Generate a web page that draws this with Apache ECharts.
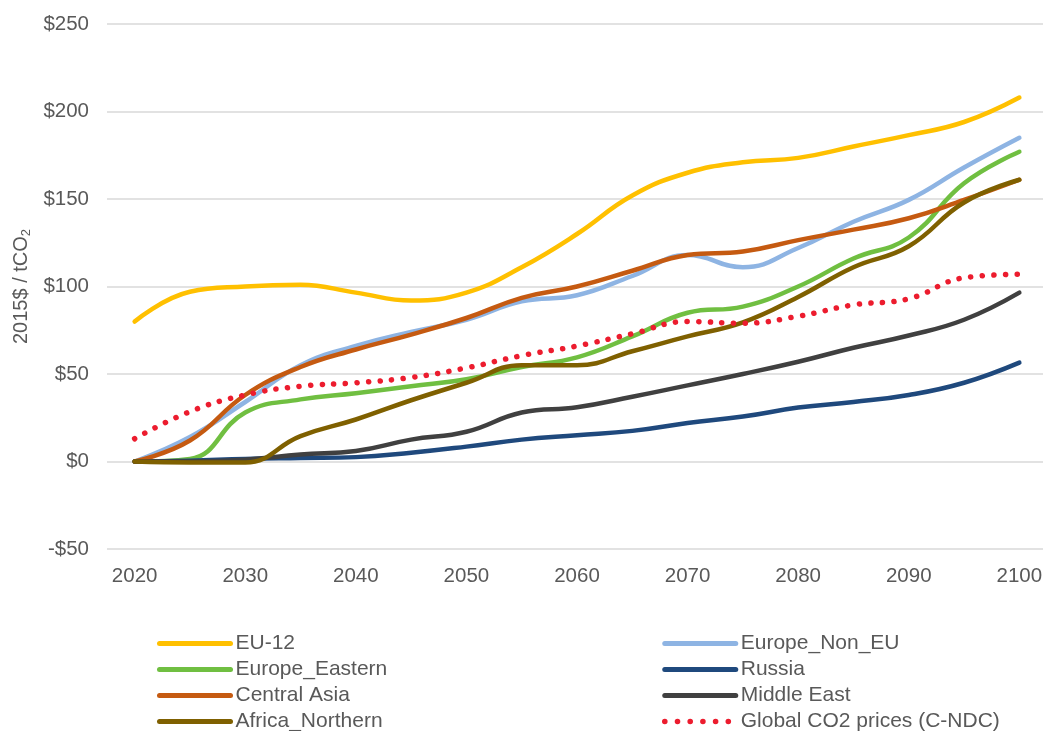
<!DOCTYPE html>
<html>
<head>
<meta charset="utf-8">
<title>Regional carbon prices</title>
<script src="https://cdn.jsdelivr.net/npm/echarts@6/dist/echarts.min.js"></script>
<style>
  html, body { margin: 0; padding: 0; background: #ffffff; }
  #chart { width: 1043px; height: 731px; }
</style>
</head>
<body>
<div id="chart"></div>
<script>
// Carbon price paths, 2015$ per tonne CO2, five-year steps
const years = ['2020','2025','2030','2035','2040','2045','2050','2055','2060',
               '2065','2070','2075','2080','2085','2090','2095','2100'];

const eu12           = [80, 97, 100, 101, 96.5, 92, 96.5, 111, 130, 152, 165, 171, 173.5, 180, 186.5, 194, 208];
const europeNonEU    = [0, 14, 34, 55, 66, 74, 81, 91.5, 95, 106, 118, 111, 122, 137, 149.5, 168, 185];
const europeEastern  = [0, 1.5, 28, 35.5, 39, 43, 47, 54, 59.5, 71.5, 85, 88.5, 100, 116, 128, 159, 177];
const russia         = [0, 0.5, 1.5, 2, 2.5, 5, 8.5, 12.5, 15, 17.5, 22, 25.7, 30.8, 34, 38, 45, 56.5];
const centralAsia    = [0, 12, 38, 54, 64, 72.5, 82, 93.5, 100, 109, 118, 120, 126.5, 132.5, 139, 149.5, 161];
const middleEast     = [0, 0, 1, 4, 6, 12.5, 17, 28, 31, 37, 43.5, 50, 57, 65, 72, 81, 96.5];
const africaNorthern = [0, -0.5, -0.5, 14.5, 24, 35, 45, 55, 55, 63, 71.5, 79.5, 94, 111, 123, 148, 161];
const globalCO2      = [13, 28.5, 38, 43, 45, 48, 53.5, 60.5, 66, 73, 80, 79, 83, 89.5, 93, 105, 107];

const yTicks = { min: -50, max: 250, step: 50 };

const FONT = "'Liberation Sans', Arial, Helvetica, sans-serif";
const TEXT = '#595959';
const RED = '#EC1C2E';

function solid(name, data, color) {
  return {
    name, type: 'line', data,
    smooth: 0.45, symbol: 'none',
    lineStyle: { color, width: 4.5, cap: 'round', join: 'round' },
    itemStyle: { color },
    emphasis: { disabled: true }
  };
}

const series = [
  solid('EU-12', eu12, '#FFC000'),
  solid('Europe_Non_EU', europeNonEU, '#8EB4E3'),
  solid('Europe_Eastern', europeEastern, '#70BF41'),
  solid('Russia', russia, '#1F497D'),
  solid('Central Asia', centralAsia, '#C55A11'),
  solid('Middle East', middleEast, '#404040'),
  solid('Africa_Northern', africaNorthern, '#7F6000'),
  {
    name: 'Global CO2 prices (C-NDC)', type: 'line', data: globalCO2,
    smooth: 0.45, symbol: 'none',
    lineStyle: { color: RED, width: 5.5, type: [0.1, 11.5], cap: 'round' },
    itemStyle: { color: RED },
    emphasis: { disabled: true }
  }
];

const legendBase = {
  orient: 'vertical',
  top: 633,
  height: 140,
  padding: 0,
  itemWidth: 71,
  itemHeight: 8,
  itemGap: 5,
  selectedMode: false,
  itemStyle: { opacity: 0 },
  lineStyle: { width: 5, cap: 'round' },
  textStyle: { fontFamily: FONT, fontSize: 21, color: TEXT, lineHeight: 21 }
};

const chart = echarts.init(document.getElementById('chart'), null, { renderer: 'canvas' });
chart.setOption({
  animation: false,
  backgroundColor: '#ffffff',
  grid: { left: 107, top: 24, width: 940, height: 525, containLabel: false, outerBoundsMode: 'none' },
  legend: [
    Object.assign({}, legendBase, {
      left: 157,
      data: ['EU-12', 'Europe_Eastern', 'Central Asia', 'Africa_Northern']
    }),
    Object.assign({}, legendBase, {
      left: 662,
      data: ['Europe_Non_EU', 'Russia', 'Middle East',
             { name: 'Global CO2 prices (C-NDC)', lineStyle: { width: 5.5, type: [0.1, 12.6], cap: 'round' } }]
    })
  ],
  xAxis: {
    type: 'category',
    data: years,
    boundaryGap: true,
    axisLine: { show: false },
    axisTick: { show: false },
    axisLabel: { interval: 1, margin: 17, fontFamily: FONT, fontSize: 20.5, color: TEXT },
    splitLine: { show: false }
  },
  yAxis: {
    type: 'value',
    min: yTicks.min, max: yTicks.max, interval: yTicks.step,
    name: '{t|2015$ / tCO}{sub|2}',
    nameLocation: 'middle',
    nameGap: 71,
    nameTextStyle: {
      fontFamily: FONT, color: TEXT,
      rich: {
        t: { fontFamily: FONT, fontSize: 20, color: TEXT },
        sub: { fontFamily: FONT, fontSize: 13, color: TEXT, padding: [10, 0, 0, 0] }
      }
    },
    axisLine: { show: false },
    axisTick: { show: false },
    axisLabel: {
      margin: 18, fontFamily: FONT, fontSize: 20.5, color: TEXT,
      formatter: v => (v < 0 ? '-$' + (-v) : '$' + v)
    },
    splitLine: { lineStyle: { color: '#D9D9D9', width: 1.5 } }
  },
  series
});
</script>
</body>
</html>
